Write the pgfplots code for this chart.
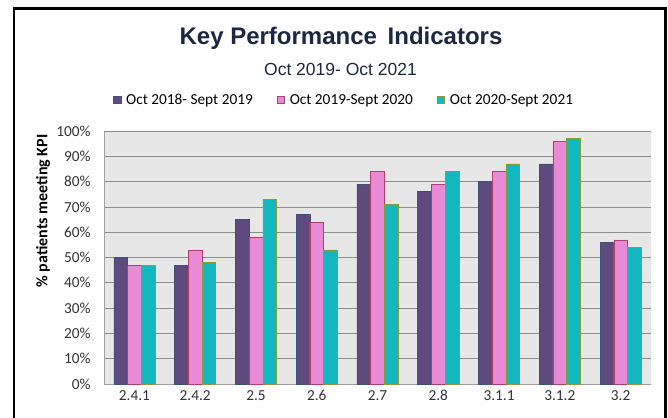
\documentclass[border=0pt]{standalone}
\usepackage{fontspec}
\setmainfont{Carlito}
\newfontfamily\arialf{Liberation Sans}
\usepackage{pgfplots}
\pgfplotsset{compat=1.18}
\definecolor{cpurple}{RGB}{94,74,124}
\definecolor{cpink}{RGB}{232,138,214}
\definecolor{cteal}{RGB}{18,184,189}
\definecolor{epurple}{RGB}{60,80,130}
\definecolor{epink}{RGB}{176,64,106}
\definecolor{eteal}{RGB}{140,154,60}
\definecolor{bggray}{RGB}{231,231,231}
\definecolor{gridgray}{RGB}{140,140,140}
\definecolor{titleblue}{RGB}{27,40,66}
\begin{document}
\begin{tikzpicture}[x=1bp,y=1bp]
\path[use as bounding box] (0,0) rectangle (668,417);
\fill[white] (0,0) rectangle (668,417);
\draw[black, line width=2.5bp] (14,-10) -- (14,408.7) -- (665.5,408.7) -- (665.5,-10);
\node[anchor=base, text=titleblue, font=\arialf\bfseries\fontsize{24bp}{28bp}\selectfont] at (341,372.7) {Key Performance\, Indicators};
\node[anchor=base, text=titleblue, font=\arialf\fontsize{17.5bp}{21bp}\selectfont] at (340.5,341.3) {Oct 2019- Oct 2021};
\begin{axis}[
  at={(104bp,33bp)}, anchor=south west,
  width=547bp, height=253bp, scale only axis,
  ybar=0pt, bar width=13.7bp,
  xmin=-0.5, xmax=8.5, ymin=0, ymax=100,
  ytick={0,10,...,100},
  xtick=data,
  xticklabels={2.4.1,2.4.2,2.5,2.6,2.7,2.8,3.1.1,3.1.2,3.2},
  yticklabel={\pgfmathprintnumber{\tick}\%},
  /pgf/number format/assume math mode=true,
  major tick length=0pt,
  ymajorgrids, grid style={gridgray, line width=0.8bp},
  axis background/.style={fill=bggray},
  axis x line*=bottom, axis y line*=left,
  axis line style={draw=gray!75, line width=0.8bp},
  tick label style={font=\fontsize{15.3bp}{18bp}\selectfont, text=black!80},
  xticklabel style={yshift=-3bp},
  yticklabel style={xshift=-10bp},
  ylabel={\% patients meeting KPI},
  ylabel style={at={(-0.1115,0.684)}, anchor=center, font=\bfseries\fontsize{16bp}{18bp}\selectfont},
  legend columns=3,
  legend style={at={(0.439,1.1225)}, anchor=center, draw=none, fill=none,
    font=\fontsize{15.3bp}{18bp}\selectfont,
    nodes={inner sep=2bp},
    /tikz/every odd column/.append style={column sep=3bp},
    /tikz/every even column/.append style={column sep=22bp},
    inner sep=0pt},
  legend image code/.code={\draw[#1, line width=0.5bp] (0bp,-3.5bp) rectangle (7.5bp,4bp);},
]
\addplot[fill=cpurple, draw=epurple, line width=0.5bp] coordinates {(0,50) (1,47) (2,65) (3,67) (4,79) (5,76) (6,80) (7,87) (8,56)};
\addplot[fill=cpink, draw=epink, line width=0.5bp] coordinates {(0,47) (1,53) (2,58) (3,64) (4,84) (5,79) (6,84) (7,96) (8,57)};
\addplot[fill=cteal, draw=eteal, line width=0.5bp] coordinates {(0,47) (1,48) (2,73) (3,53) (4,71) (5,84) (6,87) (7,97) (8,54)};
\legend{Oct 2018- Sept 2019, Oct 2019-Sept 2020, Oct 2020-Sept 2021}
\end{axis}
\end{tikzpicture}
\end{document}
